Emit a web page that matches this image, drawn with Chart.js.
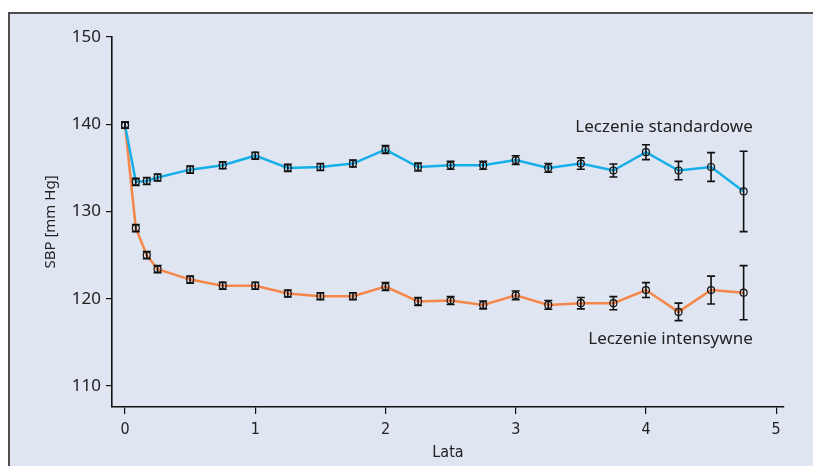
<!DOCTYPE html>
<html>
<head>
<meta charset="utf-8">
<script src="https://cdn.jsdelivr.net/npm/chart.js@4.4.1/dist/chart.umd.min.js"></script>
<style>
    html, body { margin: 0; padding: 0; background: #fff; }
    #frame {
        position: absolute; left: 8px; top: 12px; right: 0; bottom: 0;
        background: #dfe5f1;
        border-top: 2px solid #4d4d4d;
        border-left: 2px solid #4d4d4d;
    }
    #chart { position: absolute; left: 0; top: 0; }
</style>
</head>
<body>
<div id="frame"></div>
<canvas id="chart" width="813" height="466"></canvas>
<script>
// Years of follow-up
const years = [0, 0.083, 0.167, 0.25, 0.5, 0.75, 1, 1.25, 1.5, 1.75, 2, 2.25, 2.5, 2.75, 3, 3.25, 3.5, 3.75, 4, 4.25, 4.5, 4.75];

// Standard treatment: mean SBP and error (half-width)
const standardSbp = [139.9, 133.4, 133.5, 133.9, 134.8, 135.3, 136.4, 135.0, 135.1, 135.5, 137.1, 135.1, 135.3, 135.3, 135.9, 135.0, 135.5, 134.7, 136.8, 134.7, 135.1, 132.3];
const standardErr = [0.35, 0.4, 0.4, 0.4, 0.4, 0.4, 0.4, 0.4, 0.4, 0.4, 0.45, 0.45, 0.45, 0.45, 0.5, 0.5, 0.65, 0.75, 0.85, 1.05, 1.65, 4.6];

// Intensive treatment
const intensiveSbp = [139.9, 128.1, 125.0, 123.4, 122.2, 121.5, 121.5, 120.6, 120.3, 120.3, 121.4, 119.7, 119.8, 119.3, 120.4, 119.3, 119.5, 119.5, 121.0, 118.5, 121.0, 120.7];
const intensiveErr = [0.35, 0.4, 0.4, 0.4, 0.4, 0.4, 0.4, 0.4, 0.4, 0.4, 0.45, 0.45, 0.45, 0.45, 0.5, 0.5, 0.65, 0.75, 0.85, 1.0, 1.6, 3.1];

const xTicks = [0, 1, 2, 3, 4, 5];
const yTicks = [110, 120, 130, 140, 150];

const labels = [
    { text: 'Leczenie standardowe', x: 4.82, y: 139.7 },
    { text: 'Leczenie intensywne', x: 4.82, y: 115.4 }
];

const toPoints = (vals) => vals.map((v, i) => ({ x: years[i], y: v }));

const errorBars = {
    id: 'errorBars',
    afterDatasetsDraw(chart) {
        const { ctx, scales: { x, y } } = chart;
        const errs = [standardErr, intensiveErr];
        ctx.save();
        ctx.strokeStyle = '#111';
        ctx.lineWidth = 1.6;
        chart.data.datasets.forEach((ds, di) => {
            ds.data.forEach((p, i) => {
                const px = x.getPixelForValue(p.x);
                const top = y.getPixelForValue(p.y + errs[di][i]);
                const bot = y.getPixelForValue(p.y - errs[di][i]);
                ctx.beginPath();
                ctx.moveTo(px, top); ctx.lineTo(px, bot);
                ctx.moveTo(px - 4, top); ctx.lineTo(px + 4, top);
                ctx.moveTo(px - 4, bot); ctx.lineTo(px + 4, bot);
                ctx.stroke();
            });
        });
        ctx.restore();
    }
};

const textLabels = {
    id: 'textLabels',
    afterDraw(chart) {
        const { ctx, scales: { x, y } } = chart;
        ctx.save();
        ctx.font = '17px "Noto Sans"';
        ctx.fillStyle = '#222';
        ctx.textAlign = 'right';
        ctx.textBaseline = 'middle';
        labels.forEach(l => ctx.fillText(l.text, x.getPixelForValue(l.x), y.getPixelForValue(l.y)));
        ctx.restore();
    }
};

const pointStyle = {
    pointRadius: 3.5,
    pointBorderColor: '#111',
    pointBackgroundColor: 'rgba(0,0,0,0)',
    pointBorderWidth: 1.2,
    borderWidth: 2.5,
    tension: 0
};

const narrow = '"Liberation Sans Narrow", "DejaVu Sans Condensed"';

new Chart(document.getElementById('chart'), {
    type: 'line',
    data: {
        datasets: [
            { label: 'Leczenie standardowe', data: toPoints(standardSbp), borderColor: '#17afe8', ...pointStyle },
            { label: 'Leczenie intensywne', data: toPoints(intensiveSbp), borderColor: '#f5874a', ...pointStyle }
        ]
    },
    options: {
        responsive: false,
        animation: false,
        layout: { padding: { top: 37, right: 29, left: 40, bottom: 4 } },
        plugins: { legend: { display: false }, tooltip: { enabled: false } },
        scales: {
            x: {
                type: 'linear',
                min: -0.1,
                max: 5.06,
                afterFit: s => { s.height = 55; },
                afterBuildTicks: s => { s.ticks = xTicks.map(v => ({ value: v })); },
                grid: { drawOnChartArea: false, drawTicks: true, tickLength: 7, color: '#111', lineWidth: 1.2 },
                border: { display: true, color: '#111', width: 1.6 },
                ticks: { color: '#222', font: { family: narrow, size: 16 }, padding: 6 },
                title: { display: true, text: 'Lata', color: '#222', font: { family: narrow, size: 16 }, padding: { top: 0, bottom: 0 } }
            },
            y: {
                type: 'linear',
                min: 107.6,
                max: 150,
                afterFit: s => { s.width = 72; },
                afterBuildTicks: s => { s.ticks = yTicks.map(v => ({ value: v })); },
                grid: { drawOnChartArea: false, drawTicks: true, tickLength: 6, color: '#111', lineWidth: 1.2 },
                border: { display: true, color: '#111', width: 1.6 },
                ticks: { color: '#222', font: { family: '"Noto Sans"', size: 17 }, padding: 5 },
                title: { display: true, text: 'SBP [mm Hg]', color: '#222', font: { family: '"Noto Sans"', size: 15 }, padding: { top: 2, bottom: 0 } }
            }
        }
    },
    plugins: [errorBars, textLabels]
});
</script>
</body>
</html>
